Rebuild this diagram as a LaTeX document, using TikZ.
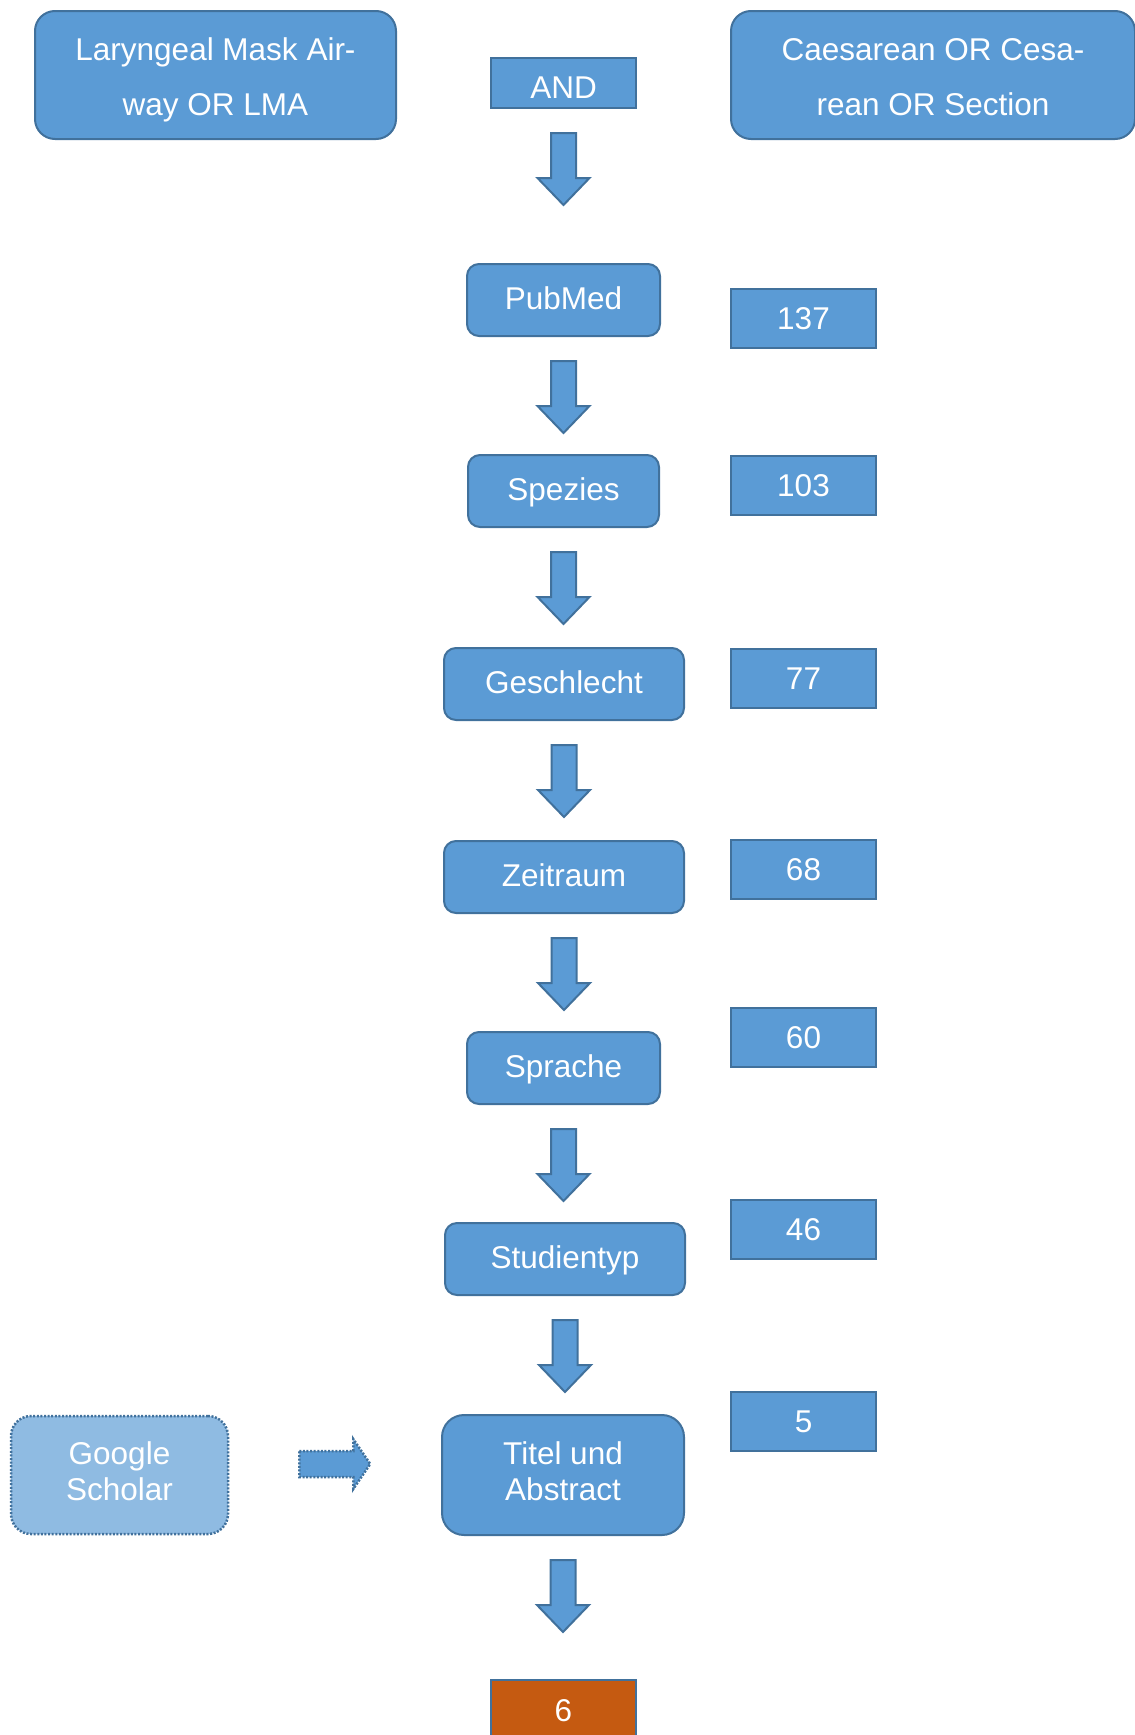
\documentclass[tikz,border=0pt]{standalone}
\usepackage{fontspec}
\setmainfont{Liberation Sans}
\usepackage{tikz}
\usetikzlibrary{calc}
\definecolor{boxblue}{HTML}{5B9BD5}
\definecolor{edgeblue}{HTML}{41719C}
\definecolor{paleblue}{HTML}{8FBBE2}
\definecolor{resultorange}{HTML}{C55A11}

\begin{document}
\begin{tikzpicture}[x=1pt,y=-1pt,
  every node/.style={text=white,inner sep=0pt,align=center,
    font=\fontsize{31.5}{36}\selectfont},
  stage/.style={draw=edgeblue,line width=2pt,fill=boxblue,rounded corners=12pt,
    minimum height=72pt,text height=18pt,text depth=0pt},
  twolines/.style={text height=50pt,text depth=0pt},
  termbox/.style={draw=edgeblue,line width=2pt,fill=boxblue,rounded corners=20pt,
    minimum height=128pt,font=\fontsize{31.5}{55}\selectfont,
    text height=80.6pt,text depth=0pt},
  countbox/.style={draw=edgeblue,line width=2pt,fill=boxblue,minimum width=145pt,
    minimum height=59pt,text height=22.6pt,text depth=0pt},
  blockarrow/.style={draw=edgeblue,line width=2pt,fill=boxblue,line join=miter},
  dotline/.style={draw=edgeblue,line width=2.5pt,dash pattern=on 2pt off 1.6pt}]
\useasboundingbox (0,0) rectangle (1135,1735);

% search terms
\node[termbox,minimum width=361pt] (lma) at (215.5,75) {Laryngeal Mask Air-\\way OR LMA};
\node[countbox,minimum height=50pt,text height=31.5pt] (and) at (563.5,83) {AND};
\node[termbox,minimum width=404pt] (caes) at (933,75) {Caesarean OR Cesa-\\rean OR Section};

% filter steps
\node[stage,minimum width=193pt] (pubmed) at (563.5,300) {PubMed};
\node[stage,minimum width=191pt] (spezies) at (563.5,491) {Spezies};
\node[stage,minimum width=240pt] (geschlecht) at (564,684) {Geschlecht};
\node[stage,minimum width=240pt] (zeitraum) at (564,877) {Zeitraum};
\node[stage,minimum width=193pt] (sprache) at (563.5,1068) {Sprache};
\node[stage,minimum width=240pt] (studientyp) at (565,1259) {Studientyp};
\node[stage,twolines,minimum width=242pt,minimum height=120pt,rounded corners=22pt] (titel) at (563,1475) {Titel und\\Abstract};

% hits per step
\node[countbox] (n137) at (803.5,318.5) {137};
\node[countbox] (n103) at (803.5,485.5) {103};
\node[countbox] (n77) at (803.5,678) {77};
\node[countbox] (n68) at (803.5,869.5) {68};
\node[countbox] (n60) at (803.5,1037) {60};
\node[countbox] (n46) at (803.5,1229) {46};
\node[countbox] (n5) at (803.5,1421.5) {5};

% extra source and result
\node[dotline,twolines,fill=paleblue,rounded corners=20pt,minimum width=217pt,minimum height=118pt] (google) at (119.5,1475) {Google\\Scholar};
\node[countbox,fill=resultorange,minimum height=60pt] (result) at (563.5,1710) {6};

% block arrows
\foreach \n in {and,pubmed,spezies,geschlecht,zeitraum,sprache,studientyp,titel}
  \draw[blockarrow] ([yshift=-24pt]\n.south) ++(-12.5,0) -- ++(25,0) -- ++(0,45)
    -- ++(13.5,0) -- ++(-26,27) -- ++(-26,-27) -- ++(13.5,0) -- cycle;
\draw[blockarrow,dotline] ([xshift=70pt,yshift=24pt]google.east) -- ++(54,0) -- ++(0,-12)
  -- ++(17,25) -- ++(-17,25) -- ++(0,-12) -- ++(-54,0) -- cycle;
\end{tikzpicture}
\end{document}
